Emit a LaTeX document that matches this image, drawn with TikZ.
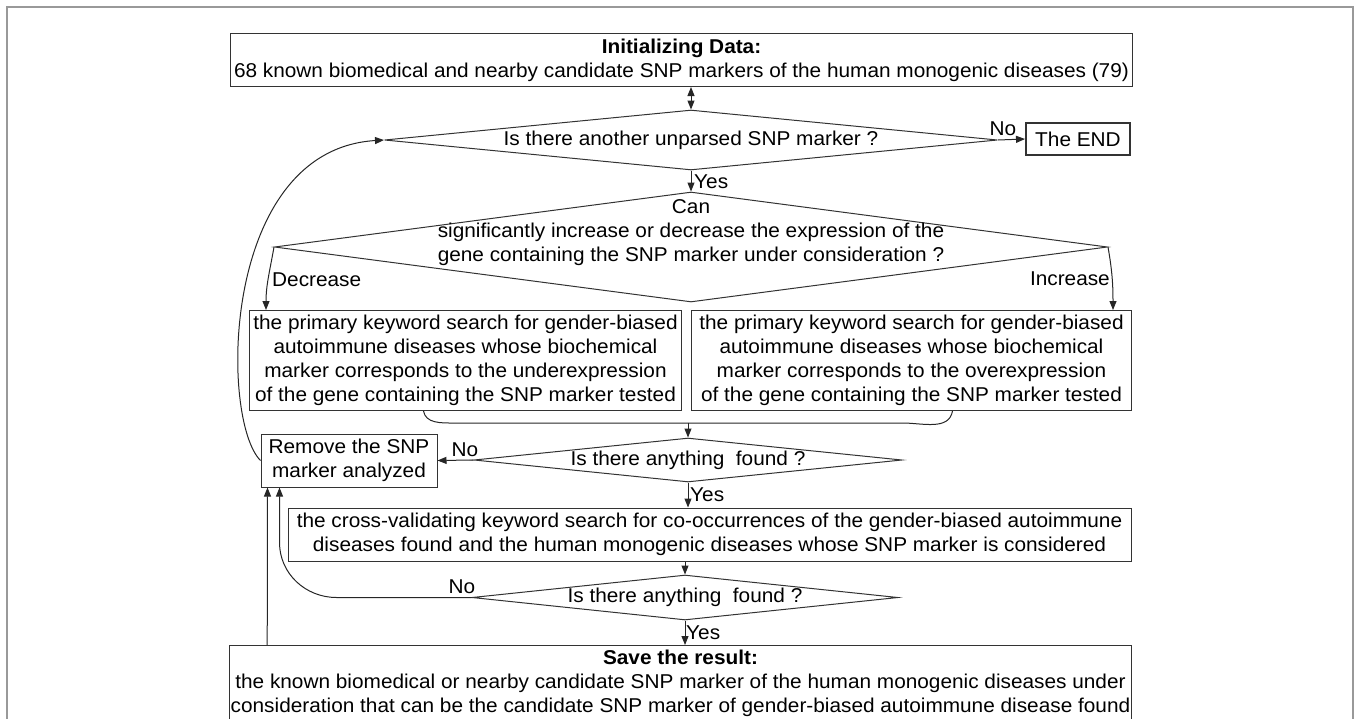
\documentclass[tikz,border=0pt]{standalone}
\usepackage{fontspec}
\setmainfont[FakeStretch=1.04]{Liberation Sans}
\usetikzlibrary{shapes.geometric,arrows.meta}

\tikzset{
    box/.style={draw=black!80, line width=1pt, inner sep=1pt, align=center},
    decision/.style={diamond, draw=black!80, line width=1pt, inner sep=0pt},
    arr/.style={-{Triangle[length=9pt,width=7pt]}, line width=1pt, black!85},
    dbl/.style={{Triangle[length=9pt,width=7pt]}-{Triangle[length=9pt,width=7pt]}, line width=1pt, black!85},
    lbl/.style={inner sep=0pt}
}

\begin{document}
\begin{tikzpicture}[x=1pt, y=-1pt, font=\fontsize{20}{24}\selectfont]

        \useasboundingbox (0,0) rectangle (1356,718);
        %Frame
        \draw[black!40, line width=2pt] (7,7) rectangle (1353,740);

        %Top box
        \node[box, anchor=north west, minimum width=902, minimum height=53] (init) at (230,33)
            {\textbf{Initializing Data:}\\68 known biomedical and nearby candidate SNP markers of the human monogenic diseases (79)};

        %First question
        \node[decision, minimum width=613, minimum height=60,
            label=center:{Is there another unparsed SNP marker ?}] (q1) at (691,140) {};
        \node[box, line width=2pt, minimum width=104, minimum height=32] (theend) at (1078,139) {The END};

        %Second question
        \node[decision, minimum width=833, minimum height=110,
            label={[align=center, yshift=14pt]center:Can\\significantly increase or decrease the expression of the\\gene containing the SNP marker under consideration ?}] (q2) at (691,247) {};

        %Keyword search boxes
        \node[box, anchor=north west, minimum width=432, minimum height=100] (under) at (249,310)
            {the primary keyword search for gender-biased\\autoimmune diseases whose biochemical\\marker corresponds to the underexpression\\of the gene containing the SNP marker tested};
        \node[box, anchor=north west, minimum width=440, minimum height=100] (over) at (691,310)
            {the primary keyword search for gender-biased\\autoimmune diseases whose biochemical\\marker corresponds to the overexpression\\of the gene containing the SNP marker tested};

        %Third question
        \coordinate (join) at (688,423);
        \node[decision, minimum width=428, minimum height=44,
            label=center:{Is there anything\ \ found ?}] (q3) at (688,460) {};
        \node[box, minimum width=176, minimum height=53] (remove) at (349,460.5) {Remove the SNP\\marker analyzed};

        %Cross validation
        \node[box, minimum width=843, minimum height=53] (cross) at (709.5,534.5)
            {the cross-validating keyword search for co-occurrences of the gender-biased autoimmune\\diseases found and the human monogenic diseases whose SNP marker is considered};

        %Fourth question
        \node[decision, minimum width=426, minimum height=45,
            label=center:{Is there anything\ \ found ?}] (q4) at (685,597.5) {};

        %Result
        \node[box, anchor=north, minimum width=901, minimum height=76] (save) at (680.5,645)
            {\textbf{Save the result:}\\the known biomedical or nearby candidate SNP marker of the human monogenic diseases under\\consideration that can be the candidate SNP marker of gender-biased autoimmune disease found};

        %Arrows
        \draw[dbl] (q1.north |- init.south) -- (q1.north);
        \draw[arr] (q1.east) -- (theend.west);
        \draw[arr] (q1.south) -- (q2.north);
        \draw[arr] (q2.west) to[out=-100,in=90] ([xshift=-8pt]q2.west |- under.north);
        \draw[arr] (q2.east) to[out=-80,in=90] ([xshift=5pt]q2.east |- over.north);
        \draw[line width=1pt, black!85] ([xshift=-42pt]under.south) to[out=-80,in=180] ++(30,12) -- (join);
        \draw[line width=1pt, black!85] ([xshift=41pt]over.south) to[out=-100,in=0] ++(-50,12) -- (join);
        \draw[arr] (join) -- (q3.north);
        \draw[arr] (q3.west) -- (remove.east);
        \draw[arr] (q3.south) -- (q3.south |- cross.north);
        \draw[arr] (q4.north |- cross.south) -- (q4.north);
        \draw[arr] (q4.south) -- (q4.south |- save.north);
        \draw[arr] (q4.west) -- ++(-135,0) to[out=180,in=-90] ([xshift=19pt,yshift=-55pt]remove.south west) -- ([xshift=19pt]remove.south west);
        \draw[arr] ([xshift=38pt]save.north west) -- ([xshift=7pt]remove.south west);
        \draw[arr] (remove.west) .. controls (220,420) and (220,150) .. (q1.west);

        %Labels
        \node[lbl] (no1) at (1003,129) {No};
        \node[lbl, anchor=west] (yes1) at (694,182) {Yes};
        \node[lbl, anchor=west] (decr) at (272,280) {Decrease};
        \node[lbl, anchor=east] (incr) at (1110,279) {Increase};
        \node[lbl] (no3) at (465,450) {No};
        \node[lbl, anchor=west] (yes3) at (690,495) {Yes};
        \node[lbl] (no4) at (462,587) {No};
        \node[lbl, anchor=west] (yes4) at (686,633) {Yes};

\end{tikzpicture}
\end{document}
